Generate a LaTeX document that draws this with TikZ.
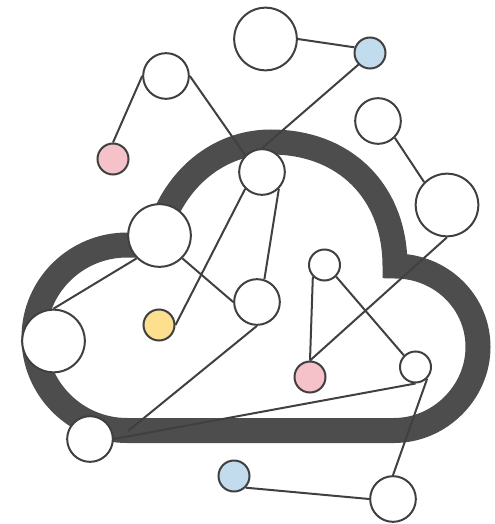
\documentclass[tikz,border=0pt]{standalone}
\definecolor{band}{HTML}{4D4D4D}
\definecolor{ink}{HTML}{404040}
\definecolor{pinkfill}{HTML}{F4C2C8}
\definecolor{bluefill}{HTML}{C2DCEE}
\definecolor{yellowfill}{HTML}{FDE08F}
\tikzset{
  x=0.75pt,y=-0.75pt,
  dot/.style={circle,draw=ink,line width=1.5pt,fill=white,inner sep=0pt},
  big/.style={dot,minimum size=47pt},
  mid/.style={dot,minimum size=34.25pt},
  small/.style={dot,minimum size=23.25pt},
  link/.style={draw=ink,line width=1.5pt},
  cloud/.style={draw=band,line width=18.75pt,line join=miter}
}
\begin{document}
\begin{tikzpicture}
\useasboundingbox (0,0) rectangle (494,524);
\path[cloud] (395,266) .. controls (441,266) and (478,302) .. (478,347)
  .. controls (478,392) and (440,430.5) .. (394,430.5) -- (127,430.5)
  .. controls (76,430.5) and (34,389) .. (34,337.5)
  .. controls (34,286) and (76,245) .. (127,245) -- (150,245) -- (165,215)
  .. controls (185,170) and (225,142) .. (271,142)
  .. controls (345,142) and (395,192) .. (395,266) -- cycle;
\node[big] (A) at (265.5,39) {};
\node[small,fill=bluefill] (B) at (370,53) {};
\node[mid] (C) at (166,76) {};
\node[mid] (D) at (378,121) {};
\node[small,fill=pinkfill] (E) at (113,159) {};
\node[mid] (F) at (262,172) {};
\node[big] (G) at (447,205) {};
\node[big] (H) at (159.5,235.5) {};
\node[small] (I) at (324.5,265) {};
\node[mid] (J) at (257,302) {};
\node[small,fill=yellowfill] (K) at (159,325) {};
\node[big] (L) at (53.5,341) {};
\node[small,fill=pinkfill] (M) at (310,377) {};
\node[small] (N) at (415.5,367) {};
\node[mid] (O) at (90,439) {};
\node[small,fill=bluefill] (P) at (234,476) {};
\node[mid] (Q) at (393,499) {};
\coordinate (jo) at (128,431);
\draw[link] (A.east) -- (B.160);
\draw[link] (B.south west) -- (F.north);
\draw[link] (C.west) -- (E.north);
\draw[link] (C.east) -- (F.north west);
\draw[link] (D.south east) -- (G.north west);
\draw[link] (F.south west) -- (K.east);
\draw[link] (F.south east) -- (J.72);
\draw[link] (H.south east) -- (J.west);
\draw[link] (H.south west) -- (L.north);
\draw[link] (G.south) -- (M.north);
\draw[link] (I.south west) -- (M.north);
\draw[link] (I.south east) -- (N.north west);
\draw[link] (J.south) -- (jo);
\draw[link] (O.east) -- (N.south);
\draw[link] (N.south east) -- (Q.north);
\draw[link] (P.south east) -- (Q.west);
\end{tikzpicture}
\end{document}
